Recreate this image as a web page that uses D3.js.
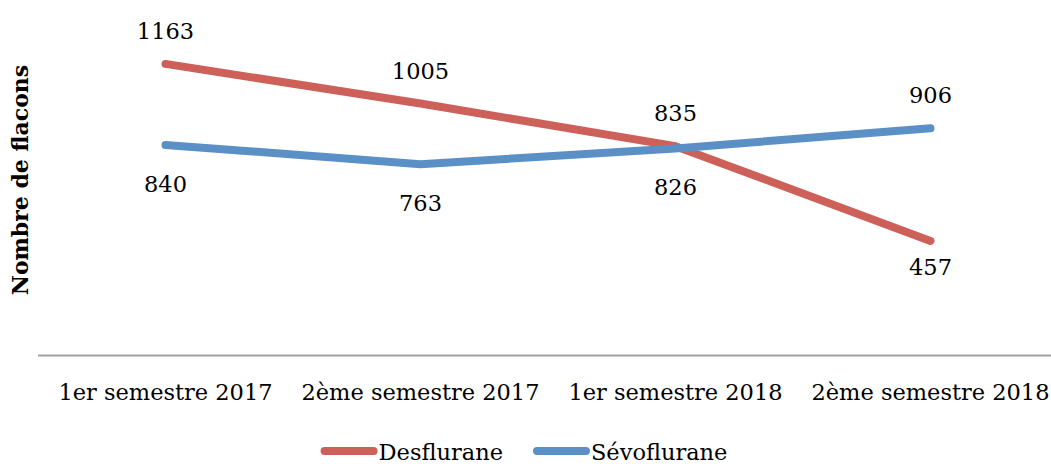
<!DOCTYPE html>
<html>
<head>
<meta charset="utf-8">
<script src="https://cdn.jsdelivr.net/npm/d3@7"></script>
<style>
  body { margin: 0; background: #fff; }
  text { font-family: 'DejaVu Serif', 'Liberation Serif', serif; fill: #000; }
</style>
</head>
<body>
<svg id="chart" width="1051" height="464"></svg>
<script>
(function () {
  'use strict';

  var categories = ['1er semestre 2017', '2ème semestre 2017', '1er semestre 2018', '2ème semestre 2018'];
  var desflurane = [1163, 1005, 835, 457];
  var sevoflurane = [840, 763, 826, 906];
  var seriesNames = ['Desflurane', 'Sévoflurane'];
  var yTitle = 'Nombre de flacons';

  var series = [
    { name: seriesNames[0], values: desflurane, color: '#cd6159', below: 34 },
    { name: seriesNames[1], values: sevoflurane, color: '#5b90c7', below: 47 }
  ];

  var svg = d3.select('#chart');

  // plot area
  var x = d3.scaleBand()
    .domain(categories)
    .range([38, 1058]);

  var y = d3.scaleLinear()
    .domain([0, 1400])
    .range([355.5, 4.5]);

  // x axis line
  svg.append('line')
    .attr('x1', 38)
    .attr('x2', 1058)
    .attr('y1', y(0))
    .attr('y2', y(0))
    .attr('stroke', '#a0a0a0')
    .attr('stroke-width', 2);

  // category labels
  svg.selectAll('.cat')
    .data(categories)
    .enter()
    .append('text')
    .attr('class', 'cat')
    .attr('x', function (d) { return x(d) + x.bandwidth() / 2; })
    .attr('y', 400)
    .attr('text-anchor', 'middle')
    .style('font-size', '22.5px')
    .text(function (d) { return d; });

  // y title
  svg.append('text')
    .attr('transform', 'translate(28,180) rotate(-90)')
    .attr('text-anchor', 'middle')
    .style('font-size', '22px')
    .style('font-weight', 'bold')
    .text(yTitle);

  var line = d3.line()
    .x(function (d, i) { return x(categories[i]) + x.bandwidth() / 2; })
    .y(function (d) { return y(d); });

  series.forEach(function (s) {
    svg.append('path')
      .datum(s.values)
      .attr('d', line)
      .attr('fill', 'none')
      .attr('stroke', s.color)
      .attr('stroke-width', 8)
      .attr('stroke-linecap', 'round')
      .attr('stroke-linejoin', 'round');
  });

  // data labels: above if higher than the other series, below otherwise
  series.forEach(function (s, k) {
    var other = series[1 - k];
    svg.selectAll('.lbl' + k)
      .data(s.values)
      .enter()
      .append('text')
      .attr('x', function (d, i) { return x(categories[i]) + x.bandwidth() / 2; })
      .attr('y', function (d, i) {
        return d >= other.values[i] ? y(d) - 25 : y(d) + s.below;
      })
      .attr('text-anchor', 'middle')
      .style('font-size', '22.5px')
      .text(function (d) { return d; });
  });

  // legend
  var legend = svg.append('g');
  var pos = 0;
  series.forEach(function (s) {
    var g = legend.append('g').attr('transform', 'translate(' + pos + ',0)');
    g.append('line')
      .attr('x1', 4).attr('x2', 53)
      .attr('y1', 451).attr('y2', 451)
      .attr('stroke', s.color)
      .attr('stroke-width', 8)
      .attr('stroke-linecap', 'round');
    var t = g.append('text')
      .attr('x', 58)
      .attr('y', 460)
      .style('font-size', '22.5px')
      .text(s.name);
    pos += 58 + t.node().getComputedTextLength() + 30;
  });
  var lw = pos - 30;
  legend.attr('transform', 'translate(' + (524 - lw / 2) + ',0)');
}());
</script>
</body>
</html>
